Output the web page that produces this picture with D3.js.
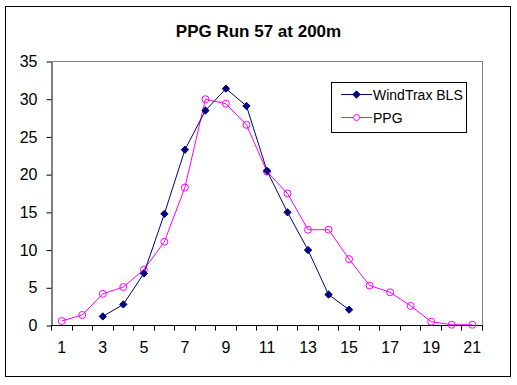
<!DOCTYPE html>
<html>
<head>
<meta charset="utf-8">
<script src="https://cdn.jsdelivr.net/npm/d3@7"></script>
<style>
  body { margin: 0; background: #fff; }
  text { font-family: Arial, "Liberation Sans", sans-serif; }
</style>
</head>
<body>
<div id="chart"></div>
<script>
// categories along the x axis
var categories = d3.range(1, 22)
var xLabels = categories.map(function (c) { return c % 2 === 1 ? String(c) : '' })
var yTicks = [0, 5, 10, 15, 20, 25, 30, 35]

// WindTrax BLS, categories 3..15
var blsCats = [3, 4, 5, 6, 7, 8, 9, 10, 11, 12, 13, 14, 15]
var blsValues = [1.2, 2.8, 6.9, 14.8, 23.3, 28.5, 31.4, 29.1, 20.5, 15.0, 10.0, 4.1, 2.1]

// PPG, categories 1..21
var ppgCats = d3.range(1, 22)
var ppgValues = [0.6, 1.4, 4.2, 5.1, 7.4, 11.1, 18.3, 30.0, 29.4, 26.6, 20.4, 17.5, 12.7, 12.7, 8.8, 5.3, 4.4, 2.6, 0.5, 0.1, 0.1]

var width = 517, height = 385
// plot area edges (window.top is reserved, so own names)
var plotLeft = 51.5, plotRight = 482.5, plotTop = 61.5, plotBottom = 325.5

var svg = d3.select('#chart').append('svg')
    .attr('width', width)
    .attr('height', height)

// outer frame
svg.append('rect')
    .attr('x', 5.5).attr('y', 6.5)
    .attr('width', 505).attr('height', 370)
    .attr('fill', '#fff')
    .attr('stroke', '#000')

svg.append('text')
    .attr('x', 258.5).attr('y', 36.5)
    .attr('text-anchor', 'middle')
    .attr('font-size', 17).attr('font-weight', 'bold')
    .text('PPG Run 57 at 200m')

var x = d3.scaleBand().domain(categories).range([plotLeft, plotRight]).padding(0)
var y = d3.scaleLinear().domain([0, 35]).range([plotBottom, plotTop])

// plot area border (top / right grey)
svg.append('path')
    .attr('d', 'M' + plotLeft + ',' + plotTop + 'H' + plotRight + 'V' + plotBottom)
    .attr('fill', 'none')
    .attr('stroke', '#808080')

// y axis
var yAxis = svg.append('g')
    .attr('transform', 'translate(' + plotLeft + ',0)')
    .call(d3.axisLeft(y).tickValues(yTicks).tickSize(5).tickPadding(9).tickSizeOuter(0))
yAxis.select('.domain').attr('stroke', '#000')
yAxis.selectAll('text').attr('font-size', 16).attr('font-family', 'Arial, "Liberation Sans", sans-serif').attr('fill', '#000')

// x axis: ticks between categories, labels on odd ones
var xAxis = svg.append('g')
    .attr('transform', 'translate(0,' + plotBottom + ')')
    .call(d3.axisBottom(x).tickSize(0).tickPadding(16).tickFormat(function (d, i) { return xLabels[i] }))
xAxis.select('.domain').remove()
xAxis.selectAll('text').attr('font-size', 16).attr('font-family', 'Arial, "Liberation Sans", sans-serif').attr('fill', '#000')

var bounds = categories.map(function (c) { return x(c) }).concat([plotRight])
xAxis.selectAll('line.bound').data(bounds).enter().append('line')
    .attr('class', 'bound')
    .attr('x1', function (d) { return Math.round(d - 0.5) + 0.5 })
    .attr('x2', function (d) { return Math.round(d - 0.5) + 0.5 })
    .attr('y1', 0).attr('y2', 5)
    .attr('stroke', '#000')
xAxis.append('line')
    .attr('x1', plotLeft).attr('x2', plotRight)
    .attr('y1', 0).attr('y2', 0)
    .attr('stroke', '#000')

var cx = function (c) { return x(c) + x.bandwidth() / 2 }
var line = d3.line()
    .x(function (d) { return cx(d[0]) })
    .y(function (d) { return y(d[1]) })

var bls = d3.zip(blsCats, blsValues)
var ppg = d3.zip(ppgCats, ppgValues)

var navy = '#000080', magenta = '#FF00FF'

svg.append('path').datum(ppg)
    .attr('d', line).attr('fill', 'none').attr('stroke', magenta).attr('stroke-width', 1)
svg.selectAll('circle.ppg').data(ppg).enter().append('circle')
    .attr('class', 'ppg')
    .attr('cx', function (d) { return cx(d[0]) })
    .attr('cy', function (d) { return y(d[1]) })
    .attr('r', 3.5)
    .attr('fill', 'none').attr('stroke', magenta)

svg.append('path').datum(bls)
    .attr('d', line).attr('fill', 'none').attr('stroke', navy).attr('stroke-width', 1)
var diamond = d3.symbol().type(d3.symbolDiamond2).size(34)
svg.selectAll('path.bls').data(bls).enter().append('path')
    .attr('class', 'bls')
    .attr('transform', function (d) { return 'translate(' + cx(d[0]) + ',' + y(d[1]) + ')' })
    .attr('d', diamond)
    .attr('fill', navy).attr('stroke', navy)

// legend
var legend = svg.append('g')
legend.append('rect')
    .attr('x', 331.5).attr('y', 82.5)
    .attr('width', 135).attr('height', 50)
    .attr('fill', '#fff').attr('stroke', '#000')

var legendItems = [
  { name: 'WindTrax BLS', color: navy, y: 94.5, mark: 'diamond' },
  { name: 'PPG', color: magenta, y: 117.5, mark: 'circle' }
]
legendItems.forEach(function (it) {
  legend.append('line')
      .attr('x1', 341).attr('x2', 372)
      .attr('y1', it.y).attr('y2', it.y)
      .attr('stroke', it.color)
  if (it.mark === 'diamond') {
    legend.append('path')
        .attr('transform', 'translate(356.5,' + it.y + ')')
        .attr('d', diamond)
        .attr('fill', it.color).attr('stroke', it.color)
  } else {
    legend.append('circle')
        .attr('cx', 356.5).attr('cy', it.y).attr('r', 3)
        .attr('fill', '#fff').attr('stroke', it.color)
  }
  legend.append('text')
      .attr('x', 373).attr('y', it.y + 5)
      .attr('font-size', 14)
      .text(it.name)
})
</script>
</body>
</html>
